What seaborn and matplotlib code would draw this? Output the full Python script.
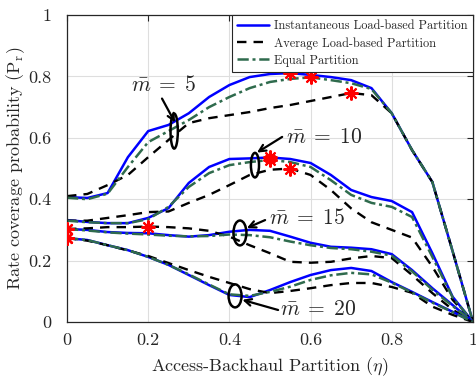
import numpy as np
import pandas as pd
import matplotlib
matplotlib.use("Agg")
import matplotlib.pyplot as plt
from matplotlib.patches import Ellipse
from matplotlib.lines import Line2D
import seaborn as sns

# ---------------- data ----------------
eta = [0.0, 0.05, 0.1, 0.15, 0.2, 0.25, 0.3, 0.35, 0.4, 0.45, 0.5,
       0.55, 0.6, 0.65, 0.7, 0.75, 0.8, 0.85, 0.9, 0.95, 1.0]

m5_inst = [0.407, 0.404, 0.420, 0.537, 0.622, 0.642, 0.680, 0.733, 0.772, 0.798, 0.808,
           0.811, 0.805, 0.798, 0.788, 0.762, 0.680, 0.560, 0.456, 0.230, 0.0]
m5_avg = [0.410, 0.417, 0.446, 0.479, 0.537, 0.593, 0.648, 0.664, 0.674, 0.684, 0.697,
          0.707, 0.720, 0.733, 0.746, 0.739, 0.680, 0.560, 0.456, 0.230, 0.0]
m5_eq = [0.405, 0.400, 0.418, 0.505, 0.586, 0.622, 0.658, 0.700, 0.733, 0.762, 0.782,
         0.792, 0.797, 0.788, 0.778, 0.759, 0.680, 0.560, 0.456, 0.230, 0.0]

m10_inst = [0.332, 0.326, 0.322, 0.322, 0.339, 0.371, 0.453, 0.505, 0.531, 0.533, 0.536,
            0.531, 0.518, 0.479, 0.430, 0.407, 0.394, 0.358, 0.224, 0.082, 0.0]
m10_avg = [0.330, 0.330, 0.339, 0.348, 0.358, 0.360, 0.388, 0.414, 0.446, 0.479, 0.496,
           0.500, 0.479, 0.430, 0.370, 0.325, 0.300, 0.275, 0.180, 0.072, 0.0]
m10_eq = [0.330, 0.325, 0.322, 0.322, 0.335, 0.375, 0.440, 0.485, 0.511, 0.521, 0.528,
          0.521, 0.505, 0.462, 0.414, 0.388, 0.375, 0.342, 0.212, 0.080, 0.0]

m15_inst = [0.303, 0.300, 0.293, 0.290, 0.289, 0.283, 0.278, 0.283, 0.294, 0.300, 0.297,
            0.278, 0.258, 0.245, 0.242, 0.237, 0.221, 0.169, 0.110, 0.055, 0.0]
m15_avg = [0.303, 0.305, 0.309, 0.309, 0.311, 0.309, 0.305, 0.297, 0.278, 0.250, 0.224,
           0.196, 0.193, 0.196, 0.207, 0.215, 0.208, 0.153, 0.094, 0.040, 0.0]
m15_eq = [0.303, 0.298, 0.292, 0.288, 0.285, 0.281, 0.279, 0.280, 0.285, 0.283, 0.276,
          0.262, 0.250, 0.241, 0.237, 0.229, 0.216, 0.165, 0.105, 0.052, 0.0]

m20_inst = [0.273, 0.267, 0.250, 0.234, 0.212, 0.186, 0.153, 0.120, 0.088, 0.081, 0.104,
            0.130, 0.153, 0.169, 0.176, 0.166, 0.130, 0.098, 0.065, 0.033, 0.0]
m20_avg = [0.273, 0.265, 0.250, 0.233, 0.215, 0.192, 0.169, 0.147, 0.127, 0.107, 0.094,
           0.101, 0.110, 0.120, 0.127, 0.127, 0.114, 0.095, 0.050, 0.023, 0.0]
m20_eq = [0.273, 0.267, 0.250, 0.234, 0.212, 0.186, 0.155, 0.122, 0.090, 0.085, 0.098,
          0.115, 0.137, 0.152, 0.160, 0.155, 0.128, 0.096, 0.063, 0.032, 0.0]

schemes = ["Instantaneous Load-based Partition", "Average Load-based Partition", "Equal Partition"]
m_labels = [r"$\bar{m}\;=\;5$", r"$\bar{m}\;=\;10$", r"$\bar{m}\;=\;15$", r"$\bar{m}\;=\;20$"]
tick_vals = [0, 0.2, 0.4, 0.6, 0.8, 1]
tick_labels = ["0", "0.2", "0.4", "0.6", "0.8", "1"]

series = {
    ("m5", schemes[0]): m5_inst, ("m5", schemes[1]): m5_avg, ("m5", schemes[2]): m5_eq,
    ("m10", schemes[0]): m10_inst, ("m10", schemes[1]): m10_avg, ("m10", schemes[2]): m10_eq,
    ("m15", schemes[0]): m15_inst, ("m15", schemes[1]): m15_avg, ("m15", schemes[2]): m15_eq,
    ("m20", schemes[0]): m20_inst, ("m20", schemes[1]): m20_avg, ("m20", schemes[2]): m20_eq,
}

rows = []
for (m, s), vals in series.items():
    for x, y in zip(eta, vals):
        rows.append({"m": m, "scheme": s, "eta": x, "P": y})
df = pd.DataFrame(rows)

# ---------------- style ----------------
sns.set_theme(style="whitegrid")
plt.rcParams["font.family"] = ["cmr10", "DejaVu Serif"]
plt.rcParams["mathtext.fontset"] = "cm"
plt.rcParams["axes.formatter.use_mathtext"] = True

styles = {
    schemes[0]: dict(color="#0000ff", linestyle="-", linewidth=1.8),
    schemes[1]: dict(color="black", linestyle=(0, (4, 3)), linewidth=1.7),
    schemes[2]: dict(color="#2f6b4d", linestyle=(0, (4.5, 1.5, 1.2, 1.5)), linewidth=1.8),
}

fig = plt.figure(figsize=(4.77, 3.77), dpi=100)
ax = fig.add_axes([0.1405, 0.146, 0.851, 0.814])

for m in ["m5", "m10", "m15", "m20"]:
    for s in [schemes[0], schemes[1], schemes[2]]:
        sub = df[(df.m == m) & (df.scheme == s)]
        sns.lineplot(data=sub, x="eta", y="P", ax=ax, legend=False, **styles[s])

# red asterisks at each curve's maximum
for (m, s), vals in series.items():
    i = int(np.argmax(vals))
    ax.plot(eta[i], vals[i], linestyle="none", marker=(8, 2, 0), markersize=10,
            markeredgewidth=1.5, color="red", zorder=5)

ax.set_xlim(0, 1)
ax.set_ylim(0, 1)
ax.set_xticks(tick_vals)
ax.set_xticklabels(tick_labels)
ax.set_yticks(tick_vals)
ax.set_yticklabels(tick_labels)
ax.tick_params(axis="both", direction="in", length=4, width=0.8, color="#262626",
               labelsize=13, top=True, right=True, labelcolor="#262626")
ax.tick_params(axis="x", pad=8)
ax.tick_params(axis="y", pad=11)
ax.set_xlabel(r"Access-Backhaul Partition ($\eta$)", fontsize=13, color="#262626", labelpad=5)
ax.set_ylabel(r"Rate coverage probability ($\mathrm{P_r}$)", fontsize=13, color="#262626", labelpad=1)
ax.grid(True, color="#dedede", linewidth=0.8)
ax.set_facecolor("white")
for sp in ax.spines.values():
    sp.set_color("#262626")
    sp.set_linewidth(0.9)

# ---------------- annotations ----------------
ann = [
    # text pos, ellipse center, ellipse w, h, arrow start, arrow end
    ((0.239, 0.772), (0.264, 0.622), 0.018, 0.114, (0.234, 0.728), (0.266, 0.650)),
    ((0.633, 0.603), (0.463, 0.511), 0.020, 0.080, (0.530, 0.603), (0.468, 0.552)),
    ((0.592, 0.339), (0.426, 0.290), 0.032, 0.081, (0.488, 0.332), (0.443, 0.306)),
    ((0.620, 0.042), (0.414, 0.085), 0.032, 0.075, (0.520, 0.039), (0.432, 0.072)),
]
for lab, (tp, ec, ew, eh, a0, a1) in zip(m_labels, ann):
    ax.text(tp[0], tp[1], lab, fontsize=15.5, ha="center", va="center", color="#262626", zorder=6)
    ax.add_patch(Ellipse(ec, ew, eh, fill=False, edgecolor="black", linewidth=1.8, zorder=6))
    ax.annotate("", xy=a1, xytext=a0,
                arrowprops=dict(arrowstyle="->", color="black", lw=1.6,
                                shrinkA=0, shrinkB=0, mutation_scale=12), zorder=6)

handles = [Line2D([], [], **styles[s]) for s in schemes]
leg = ax.legend(handles, schemes, loc="upper right", fontsize=8.9, frameon=True,
                fancybox=False, framealpha=1, edgecolor="#262626", handlelength=2.6,
                borderpad=0.4, labelspacing=0.4, handletextpad=0.4,
                borderaxespad=0.0)
leg.get_frame().set_linewidth(0.8)
for t in leg.get_texts():
    t.set_color("#262626")

fig.savefig("out.png", dpi=100)
